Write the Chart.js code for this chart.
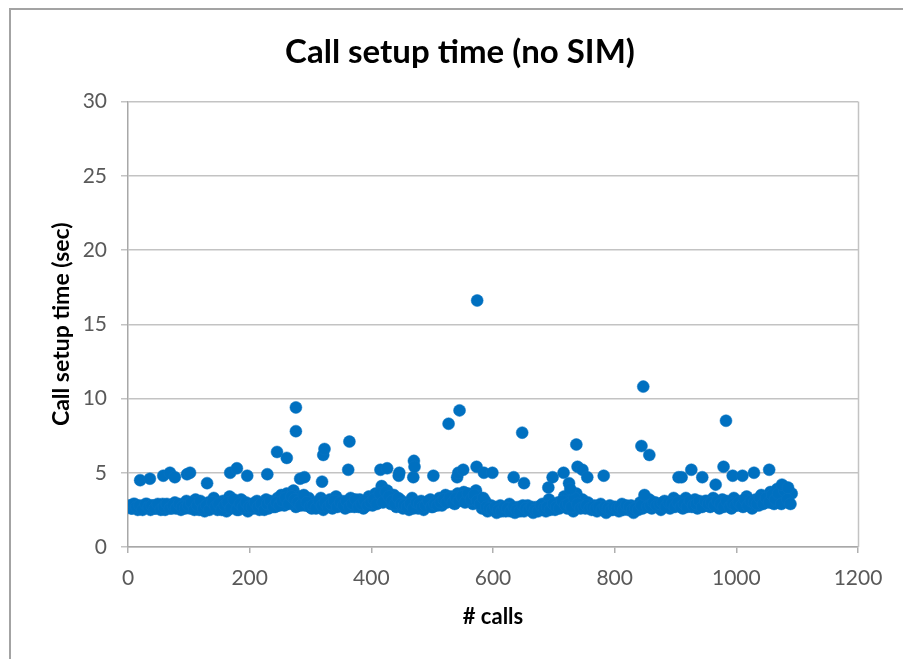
<!DOCTYPE html>
<html>
<head>
<meta charset="utf-8">
<script src="https://cdn.jsdelivr.net/npm/chart.js@4.4.1/dist/chart.umd.min.js"></script>
<style>
  html, body { margin: 0; padding: 0; background: #ffffff; overflow: hidden; }
  #frame { position: absolute; left: 9px; top: 8px; width: 1000px; height: 1000px;
           border-left: 2px solid #a3a3a3; border-top: 2px solid #a3a3a3; box-sizing: border-box; }
  #c { position: absolute; left: 0; top: 0; }
</style>
</head>
<body>
<div id="frame"></div>
<canvas id="c" width="903" height="659"></canvas>
<script>
// ---- data ----
const chartTitle = 'Call setup time (no SIM)';
const xTitle = '# calls';
const yTitle = 'Call setup time (sec)';

// bulk of the calls (sampled along the dense band)
const bandCalls = [
  3,7,11,16,22,26,31,37,42,46,
  52,57,61,66,72,77,81,87,92,96,
  102,107,111,117,122,126,132,137,141,147,
  152,156,162,167,171,177,182,186,192,197,
  201,207,212,216,222,227,231,237,242,246,
  252,257,261,267,272,276,282,287,291,297,
  302,306,312,317,321,327,332,336,342,347,
  351,357,362,366,372,377,381,387,392,396,
  402,407,411,417,422,426,432,437,441,447,
  452,456,462,467,471,477,482,486,492,497,
  501,507,512,516,522,527,531,537,542,546,
  552,557,561,567,572,576,582,587,591,597,
  602,606,612,617,621,627,632,636,642,647,
  651,657,662,666,672,677,681,687,692,696,
  702,707,711,717,722,726,732,737,741,747,
  752,756,762,767,771,777,782,786,792,797,
  801,807,812,816,822,827,831,837,842,846,
  852,857,861,867,872,876,882,887,891,897,
  902,906,912,917,921,927,932,936,942,947,
  951,957,962,966,972,977,981,987,992,996,
  1002,1007,1011,1017,1022,1026,1032,1037,1041,1047,
  1052,1056,1062,1067,1071,1077,1082,1086,1091
];
const bandSec = [
  2.8,2.6,2.9,2.5,2.7,2.6,2.9,2.5,2.8,2.6,
  2.7,2.9,2.5,2.8,2.6,3.0,2.7,2.5,2.9,3.1,
  2.6,2.8,3.2,2.5,2.9,2.4,3.0,2.7,3.3,2.5,
  2.8,3.1,2.4,3.4,2.7,2.9,2.5,3.2,2.6,2.4,
  2.9,2.6,3.1,2.5,2.8,3.2,2.6,3.0,2.7,3.3,
  3.5,2.8,3.6,3.0,3.8,2.7,3.4,3.1,2.8,3.3,
  2.6,3.0,2.7,3.3,2.5,2.9,3.2,2.6,3.4,2.8,
  3.1,2.6,3.0,3.3,2.7,2.9,3.2,2.6,3.0,3.4,
  2.8,3.6,3.1,4.1,3.3,3.8,2.9,3.5,2.7,3.2,
  2.6,3.0,2.5,3.3,2.8,2.6,3.1,2.5,2.9,3.2,
  2.7,3.0,3.3,2.8,3.5,3.1,3.4,2.9,3.6,3.2,
  3.7,3.3,3.5,2.9,3.8,3.4,2.6,3.1,2.4,2.8,
  2.5,2.3,2.8,2.6,2.4,2.9,2.5,2.3,2.7,2.6,
  2.4,2.8,2.5,2.3,2.7,2.6,2.9,2.4,3.2,2.7,
  2.5,3.0,2.7,3.4,2.6,3.1,2.4,3.6,2.8,3.2,
  2.6,3.0,2.5,2.8,2.4,2.9,2.6,2.3,2.8,2.5,
  2.7,2.4,2.9,2.6,2.5,2.8,2.3,2.7,3.0,2.6,
  2.9,3.2,2.6,3.0,2.7,2.5,3.1,2.8,2.6,3.3,
  2.8,3.1,2.6,3.3,2.9,2.7,3.2,2.6,3.0,2.8,
  3.1,2.7,3.3,2.9,2.6,3.2,2.8,3.0,2.6,3.3,
  2.8,3.1,2.7,3.4,2.9,2.6,3.2,2.8,3.5,3.0,
  3.3,3.7,2.9,3.9,3.2,4.1,3.4,3.0,3.6
];

// more calls inside the band, between the ones above
const bandCalls2 = [
  5,9,14,19,24,29,34,39,44,49,
  54,59,64,69,74,79,84,89,94,99,
  104,109,114,119,124,129,134,139,144,149,
  154,159,164,169,174,179,184,189,194,199,
  204,209,214,219,224,229,234,239,244,249,
  254,259,264,269,274,279,284,289,294,299,
  304,309,314,319,324,329,334,339,344,349,
  354,359,364,369,374,379,384,389,394,399,
  404,409,414,419,424,429,434,439,444,449,
  454,459,464,469,474,479,484,489,494,499,
  504,509,514,519,524,529,534,539,544,549,
  554,559,564,569,574,579,584,589,594,599,
  604,609,614,619,624,629,634,639,644,649,
  654,659,664,669,674,679,684,689,694,699,
  704,709,714,719,724,729,734,739,744,749,
  754,759,764,769,774,779,784,789,794,799,
  804,809,814,819,824,829,834,839,844,849,
  854,859,864,869,874,879,884,889,894,899,
  904,909,914,919,924,929,934,939,944,949,
  954,959,964,969,974,979,984,989,994,999,
  1004,1009,1014,1019,1024,1029,1034,1039,1044,1049,
  1054,1059,1064,1069,1074,1079,1084,1089
];
const bandSec2 = [
  2.6,2.9,2.7,2.8,2.5,2.9,2.7,2.8,2.6,2.9,
  2.5,2.7,2.9,2.6,2.8,2.6,2.9,2.7,2.6,2.8,
  3.0,2.5,2.8,3.1,2.6,2.8,2.5,3.0,2.7,2.9,
  2.5,2.8,3.0,2.6,3.2,2.5,2.9,2.7,3.0,2.7,
  2.7,3.0,2.7,2.9,2.5,2.9,3.1,2.7,3.0,2.8,
  3.1,3.3,2.9,3.4,3.2,3.0,2.8,3.5,3.0,2.7,
  2.8,2.6,3.1,2.8,3.0,2.7,2.9,3.1,2.7,3.0,
  2.8,3.1,2.7,2.9,3.2,2.7,2.9,3.1,2.8,3.0,
  3.2,2.9,3.6,3.0,3.7,3.4,3.1,2.9,3.3,2.9,
  2.8,2.7,2.9,2.6,3.0,2.9,2.7,2.8,3.1,2.7,
  2.9,2.8,3.0,3.2,3.0,3.3,3.0,3.3,3.1,3.4,
  3.0,3.6,3.2,3.5,3.1,2.9,3.3,2.7,2.6,2.5,
  2.7,2.5,2.4,2.7,2.6,2.4,2.7,2.5,2.4,2.8,
  2.6,2.5,2.7,2.5,2.4,2.8,2.6,2.7,2.5,2.9,
  2.7,2.6,3.1,2.8,2.9,2.7,3.3,2.9,2.6,2.7,
  2.8,2.6,2.7,2.6,2.7,2.5,2.7,2.6,2.5,2.7,
  2.6,2.7,2.5,2.8,2.7,2.5,2.6,2.5,2.8,3.5,
  2.7,2.8,3.0,2.8,2.9,3.0,2.7,3.0,2.9,2.7,
  3.0,2.7,2.9,2.7,3.1,2.8,2.9,3.1,2.7,3.1,
  2.9,3.0,2.8,3.1,2.9,2.7,3.1,2.7,2.9,2.8,
  3.0,2.8,3.2,2.8,3.1,3.0,2.9,3.3,2.9,3.3,
  3.0,3.5,3.2,3.6,2.9,3.8,3.2,2.9
];

// slower calls above the band
const slowCalls = [
  20,36,58,69,77,97,102,130,168,179,196,229,245,261,276,276,283,290,319,321,323,
  362,364,415,426,445,446,469,470,471,502,527,541,543,545,551,573,574,585,599,
  634,648,651,691,698,716,725,727,737,739,747,755,782,844,847,857,905,910,926,
  944,966,979,983,994,1010,1029,1054,1075,1085
];
const slowSec = [
  4.5,4.6,4.8,5.0,4.7,4.9,5.0,4.3,5.0,5.3,4.8,4.9,6.4,6.0,7.8,9.4,4.6,4.7,4.4,6.2,6.6,
  5.2,7.1,5.2,5.3,4.8,5.0,4.7,5.8,5.4,4.8,8.3,4.7,5.0,9.2,5.2,5.4,16.6,5.0,5.0,
  4.7,7.7,4.3,4.0,4.7,5.0,4.3,3.9,6.9,5.4,5.2,4.7,4.8,6.8,10.8,6.2,4.7,4.7,5.2,
  4.7,4.2,5.4,8.5,4.8,4.8,5.0,5.2,4.2,4.0
];

const xTicks = [0, 200, 400, 600, 800, 1000, 1200];
const yTicks = [0, 5, 10, 15, 20, 25, 30];

// ---- build chart ----
const points = [];
bandCalls.forEach((c, i) => points.push({ x: c, y: bandSec[i] }));
bandCalls2.forEach((c, i) => points.push({ x: c, y: bandSec2[i] }));
slowCalls.forEach((c, i) => points.push({ x: c, y: slowSec[i] }));

const FONT = 'Lato, "Open Sans", sans-serif';
const TITLE_SHIFT = 11;

const plotFrame = {
  id: 'plotFrame',
  afterLayout(chart) {
    const t = chart.titleBlock;
    if (t) { t.left += TITLE_SHIFT; t.right += TITLE_SHIFT; }
  },
  beforeDatasetsDraw(chart) {
    const { ctx, chartArea: a } = chart;
    ctx.save();
    ctx.strokeStyle = '#c3c3c3';
    ctx.lineWidth = 1.5;
    ctx.beginPath();
    ctx.moveTo(Math.round(a.right) + 0.5, a.top);
    ctx.lineTo(Math.round(a.right) + 0.5, a.bottom);
    ctx.stroke();
    ctx.restore();
  }
};

new Chart(document.getElementById('c'), {
  type: 'scatter',
  data: {
    datasets: [{
      data: points,
      backgroundColor: '#0070c0',
      borderColor: '#0a74c2',
      borderWidth: 0.5,
      pointRadius: 6,
      pointHoverRadius: 6
    }]
  },
  options: {
    responsive: false,
    animation: false,
    events: [],
    layout: { padding: { left: 40, right: 45, top: 8, bottom: 0 } },
    plugins: {
      legend: { display: false },
      tooltip: { enabled: false },
      title: {
        display: true,
        text: chartTitle,
        color: '#000000',
        font: { family: FONT, size: 33, weight: 'bold', lineHeight: 1.2 },
        padding: { top: 24.2, bottom: 29.7 }
      }
    },
    scales: {
      x: {
        type: 'linear',
        min: 0, max: 1200,
        afterBuildTicks(scale) { scale.ticks = xTicks.map(v => ({ value: v })); },
        afterFit(scale) { scale.height = 112; },
        ticks: {
          color: '#595959',
          font: { family: FONT, size: 21, lineHeight: 1.2 },
          padding: 13,
          maxRotation: 0,
          autoSkip: false,
          callback: v => String(v)
        },
        grid: {
          drawOnChartArea: false,
          color: '#b0b0b0',
          lineWidth: 1.5,
          tickLength: 6
        },
        border: { display: true, color: '#a8a8a8', width: 1.5 },
        title: {
          display: true,
          text: xTitle,
          color: '#000000',
          font: { family: FONT, size: 22, weight: 'bold', lineHeight: 1.2 },
          padding: { top: 0, bottom: 28.8 }
        }
      },
      y: {
        type: 'linear',
        min: 0, max: 30,
        afterBuildTicks(scale) { scale.ticks = yTicks.map(v => ({ value: v })); },
        afterFit(scale) { scale.width = 88; },
        ticks: {
          color: '#595959',
          font: { family: FONT, size: 21, lineHeight: 1.2 },
          padding: 14,
          callback: v => String(v)
        },
        grid: {
          color: '#c3c3c3',
          lineWidth: 1.5,
          tickLength: 7
        },
        border: { display: true, color: '#a8a8a8', width: 1.5 },
        title: {
          display: true,
          text: yTitle,
          color: '#000000',
          font: { family: FONT, size: 23, weight: 'bold', lineHeight: 1.2 },
          padding: { top: 8.2, bottom: 0 }
        }
      }
    }
  },
  plugins: [plotFrame]
});
</script>
</body>
</html>
